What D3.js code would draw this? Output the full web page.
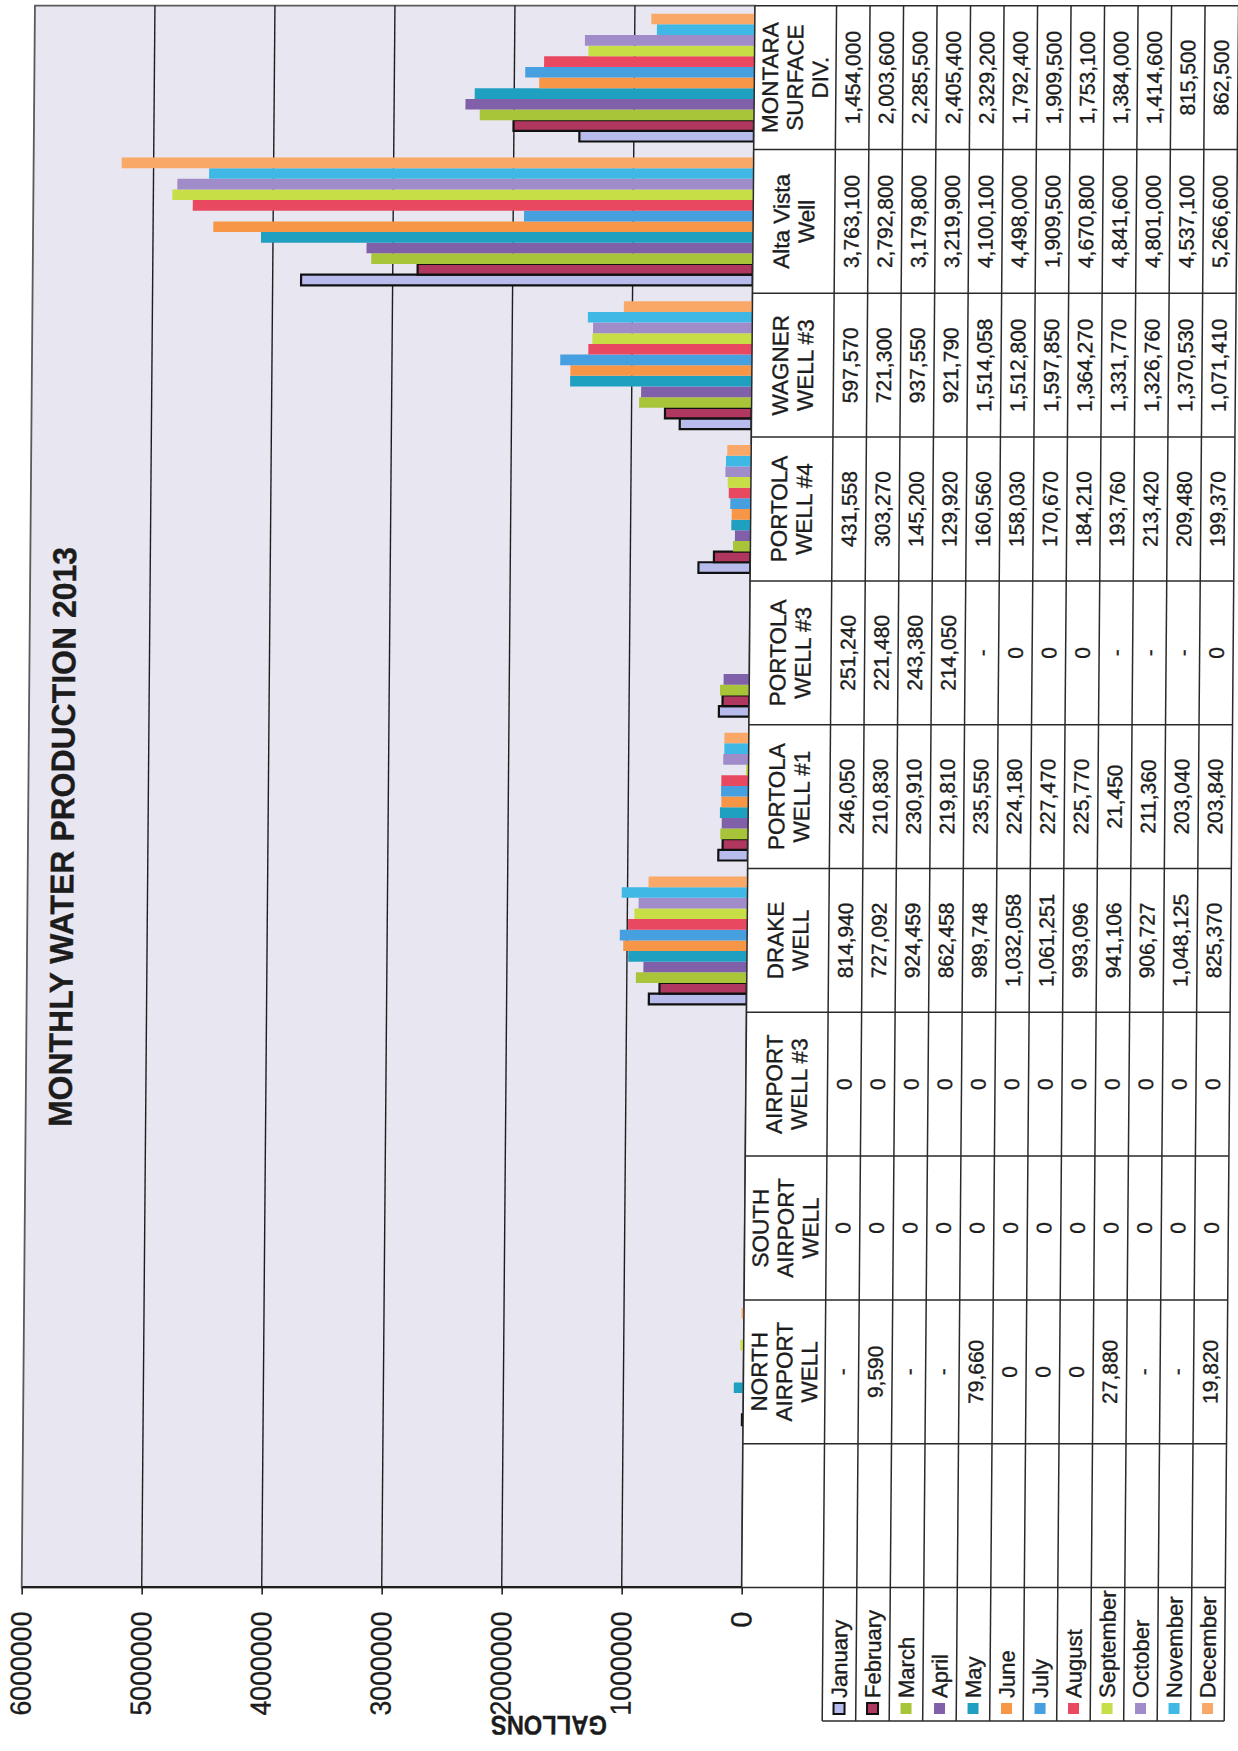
<!DOCTYPE html>
<html>
<head>
<meta charset="utf-8">
<script src="https://cdn.jsdelivr.net/npm/d3@7"></script>
<style>
  html, body { margin: 0; padding: 0; background: #fff; }
  svg { display: block; }
  text { font-family: "Liberation Sans", Arial, Helvetica, sans-serif; fill: #1c1c1c; stroke: #1c1c1c; stroke-width: 0.35px; }
</style>
</head>
<body>
<script>
// ---- data -------------------------------------------------------------
const months = ["January", "February", "March", "April", "May", "June",
                "July", "August", "September", "October", "November", "December"];

// first column of the data table is left blank
const categories = ["", "NORTH\nAIRPORT\nWELL", "SOUTH\nAIRPORT\nWELL", "AIRPORT\nWELL #3",
                    "DRAKE\nWELL", "PORTOLA\nWELL #1", "PORTOLA\nWELL #3", "PORTOLA\nWELL #4",
                    "WAGNER\nWELL #3", "Alta Vista\nWell", "MONTARA\nSURFACE\nDIV."];

// gallons per month, January..December (null = no reading, shown as "-")
const northAirport = [null, 9590, null, null, 79660, 0, 0, 0, 27880, null, null, 19820];
const southAirport = [0, 0, 0, 0, 0, 0, 0, 0, 0, 0, 0, 0];
const airportWell3 = [0, 0, 0, 0, 0, 0, 0, 0, 0, 0, 0, 0];
const drakeWell    = [814940, 727092, 924459, 862458, 989748, 1032058, 1061251, 993096, 941106, 906727, 1048125, 825370];
const portolaWell1 = [246050, 210830, 230910, 219810, 235550, 224180, 227470, 225770, 21450, 211360, 203040, 203840];
const portolaWell3 = [251240, 221480, 243380, 214050, null, 0, 0, 0, null, null, null, 0];
const portolaWell4 = [431558, 303270, 145200, 129920, 160560, 158030, 170670, 184210, 193760, 213420, 209480, 199370];
const wagnerWell3  = [597570, 721300, 937550, 921790, 1514058, 1512800, 1597850, 1364270, 1331770, 1326760, 1370530, 1071410];
const altaVista    = [3763100, 2792800, 3179800, 3219900, 4100100, 4498000, 1909500, 4670800, 4841600, 4801000, 4537100, 5266600];
const montaraDiv   = [1454000, 2003600, 2285500, 2405400, 2329200, 1792400, 1909500, 1753100, 1384000, 1414600, 815500, 862500];

const valueTicks = [0, 1000000, 2000000, 3000000, 4000000, 5000000, 6000000];

const series = [null, northAirport, southAirport, airportWell3, drakeWell, portolaWell1,
                portolaWell3, portolaWell4, wagnerWell3, altaVista, montaraDiv];

const monthColors = ["#b8bcec", "#b03860", "#a8c438", "#8060a8", "#20a0c0", "#f69646",
                     "#46a0e0", "#e84860", "#c8de46", "#a08cc8", "#40b8e6", "#f9a868"];
const outlined = new Set(["January", "February"]);

// ---- page -------------------------------------------------------------
const W = 1238, H = 1751;
const svg = d3.select("body").append("svg").attr("width", W).attr("height", H);
svg.append("rect").attr("width", W).attr("height", H).attr("fill", "#fff");

// the printed sheet leans a little
const sheet = svg.append("g")
  .attr("transform", "translate(0,1587.5) skewX(-0.48) translate(0,-1587.5)");

// chart is laid out landscape and turned a quarter turn to the left
const g = sheet.append("g").attr("transform", `matrix(0,-1,1,0,0,${H})`);

// landscape geometry
const plotL = 163.5, plotR = 1745.3, plotT = 21.7, plotB = 741.7;
const headerB = 823.3, rowH = 33.5, tableB = headerB + months.length * rowH;
const legendL = 30;
const ink = "#1f1f1f";

const y = d3.scaleLinear().domain([0, 6000000]).range([plotB, plotT]);
const cell = d3.scaleBand().domain(categories).range([plotL, plotR]);
const barPad = 8;
const sub = d3.scaleBand().domain(months).range([barPad, cell.bandwidth() - barPad]);
const color = d3.scaleOrdinal().domain(months).range(monthColors);
const fmt = d3.format(",");

// plot area
g.append("rect")
  .attr("x", plotL).attr("y", plotT)
  .attr("width", plotR - plotL).attr("height", plotB - plotT)
  .attr("fill", "#e8e6f0").attr("stroke", "#5a5a5a").attr("stroke-width", 1.8);

// gridlines
g.append("g").selectAll("line")
  .data(valueTicks.filter(v => v > 0 && v < 6000000))
  .join("line")
  .attr("x1", plotL).attr("x2", plotR)
  .attr("y1", d => y(d)).attr("y2", d => y(d))
  .attr("stroke", ink).attr("stroke-width", 1.4);

// bars
const bars = [];
categories.forEach((c, i) => {
  const vals = series[i];
  if (!vals) return;
  months.forEach((m, j) => {
    if (vals[j] != null && vals[j] > 0) bars.push({ cat: c, month: m, value: vals[j] });
  });
});

g.append("g").selectAll("rect")
  .data(bars)
  .join("rect")
  .attr("x", d => cell(d.cat) + sub(d.month))
  .attr("width", sub.bandwidth())
  .attr("y", d => y(d.value))
  .attr("height", d => y(0) - y(d.value))
  .attr("fill", d => color(d.month))
  .attr("stroke", d => outlined.has(d.month) ? "#111" : "none")
  .attr("stroke-width", 2.2);

// value axis
const axis = d3.axisLeft(y)
  .tickValues(valueTicks)
  .tickFormat(d3.format("d"))
  .tickSizeInner(7).tickSizeOuter(0).tickPadding(17);
const ax = g.append("g").attr("transform", `translate(${plotL},0)`).call(axis);
ax.select(".domain").attr("stroke", ink).attr("stroke-width", 1.8);
ax.selectAll(".tick line").attr("stroke", ink).attr("stroke-width", 1.6);
ax.selectAll(".tick text")
  .style("font-family", "'Liberation Sans', Arial, sans-serif")
  .style("font-size", "29px").attr("fill", "#1c1c1c")
  .attr("textLength", 104).attr("lengthAdjust", "spacingAndGlyphs");
ax.selectAll(".tick").filter(d => d === 0).select("text").attr("textLength", null);

// axis title
g.append("text")
  .attr("transform", "translate(26,550) rotate(-90)")
  .attr("text-anchor", "middle").attr("dy", "0.35em")
  .style("font-size", "27px").style("font-weight", "bold")
  .attr("textLength", 116).attr("lengthAdjust", "spacingAndGlyphs")
  .text("GALLONS");

// chart title
g.append("text")
  .attr("x", 914).attr("y", 56).attr("dy", "0.35em")
  .attr("text-anchor", "middle")
  .style("font-size", "33px").style("font-weight", "bold")
  .attr("textLength", 580).attr("lengthAdjust", "spacingAndGlyphs")
  .text("MONTHLY WATER PRODUCTION 2013");

// ---- data table -------------------------------------------------------
const table = g.append("g");
table.append("rect")
  .attr("x", legendL).attr("y", headerB).attr("width", plotR - legendL).attr("height", tableB - headerB)
  .attr("fill", "#fff");
table.append("rect")
  .attr("x", plotL).attr("y", plotB).attr("width", plotR - plotL).attr("height", headerB - plotB)
  .attr("fill", "#fff");

const rowEdges = d3.range(months.length + 1).map(k => headerB + k * rowH);
const lineAttrs = sel => sel.attr("stroke", "#2a2a2a").attr("stroke-width", 1.5);

// row rules
table.append("line").attr("x1", plotL).attr("x2", plotR).attr("y1", plotB).attr("y2", plotB).call(lineAttrs);
table.selectAll(".rowrule").data(rowEdges).join("line").attr("class", "rowrule")
  .attr("x1", legendL).attr("x2", plotR).attr("y1", d => d).attr("y2", d => d).call(lineAttrs);

// column rules
const colEdges = categories.map(c => cell(c)).concat([plotR]);
table.selectAll(".colrule").data(colEdges).join("line").attr("class", "colrule")
  .attr("x1", d => d).attr("x2", d => d).attr("y1", plotB).attr("y2", tableB).call(lineAttrs);
table.append("line").attr("x1", legendL).attr("x2", legendL).attr("y1", headerB).attr("y2", tableB).call(lineAttrs);

// column headers
categories.forEach(c => {
  const lines = c ? c.split("\n") : [];
  const cx = cell(c) + cell.bandwidth() / 2;
  const mid = (plotB + headerB) / 2;
  lines.forEach((t, j) => {
    table.append("text")
      .attr("x", cx).attr("y", mid + (j - (lines.length - 1) / 2) * 25)
      .attr("dy", "0.35em").attr("text-anchor", "middle")
      .style("font-size", "22.5px").text(t);
  });
});

// cell values
categories.forEach((c, i) => {
  const vals = series[i];
  if (!vals) return;
  const cx = cell(c) + cell.bandwidth() / 2;
  table.append("g").selectAll("text").data(vals).join("text")
    .attr("x", cx).attr("y", (d, k) => headerB + (k + 0.5) * rowH)
    .attr("dy", "0.35em").attr("text-anchor", "middle")
    .style("font-size", "21px")
    .text(d => d == null ? "-" : fmt(d));
});

// legend keys
const legend = table.append("g").selectAll("g").data(months).join("g")
  .attr("transform", (d, k) => `translate(0,${headerB + (k + 0.5) * rowH})`);
legend.append("rect")
  .attr("x", 37).attr("y", -5.5).attr("width", 11).attr("height", 11)
  .attr("fill", d => color(d))
  .attr("stroke", d => outlined.has(d) ? "#111" : "none").attr("stroke-width", 2);
legend.append("text")
  .attr("x", 53).attr("dy", "0.35em")
  .style("font-size", "22px").text(d => d);
</script>
</body>
</html>
